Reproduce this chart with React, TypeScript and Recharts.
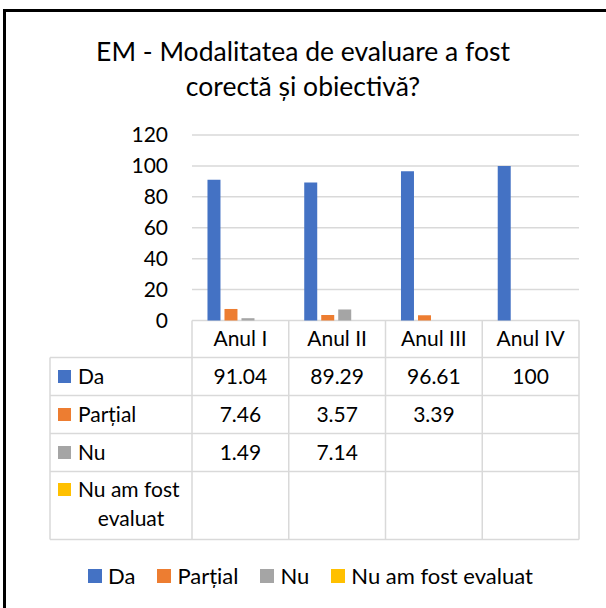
import React from "react";
import { BarChart, Bar, XAxis, YAxis, CartesianGrid, Legend } from "recharts";

const categories = ["Anul I", "Anul II", "Anul III", "Anul IV"];
const da = [91.04, 89.29, 96.61, 100];
const partial = [7.46, 3.57, 3.39, null];
const nu = [1.49, 7.14, null, null];
const nuAmFost = [null, null, null, null];
const yTicks = [0, 20, 40, 60, 80, 100, 120];

const series = [
  { key: "da", name: "Da", color: "#4472C4", values: da, label: ["Da"] },
  { key: "partial", name: "Parțial", color: "#ED7D31", values: partial, label: ["Parțial"] },
  { key: "nu", name: "Nu", color: "#A5A5A5", values: nu, label: ["Nu"] },
  { key: "nuAmFost", name: "Nu am fost evaluat", color: "#FFC000", values: nuAmFost, label: ["Nu am fost", "evaluat"] },
];

const data = categories.map((name, i) => ({
  name,
  da: da[i],
  partial: partial[i],
  nu: nu[i],
  nuAmFost: nuAmFost[i],
}));

const FONT = "Lato, 'Open Sans', sans-serif";
const GRID = "#d9d9d9";
const FS = 21;
const TABLE_LEFT = 50;
const HEADER_H = 37;
const ROW_H = [38, 38, 38, 68];

// one column of the data table, drawn at the x axis tick position
const TableTick = (props: any) => {
  const { x, y, payload, index } = props;
  const half = payload?.offset || 48.4;
  const left = x - half;
  const rowTops: number[] = [];
  let acc = y + HEADER_H;
  ROW_H.forEach((h) => {
    rowTops.push(acc);
    acc += h;
  });
  const bottom = acc;
  const plotRight = left + (categories.length - index) * 2 * half;
  const base = 0.355 * FS;

  return (
    <g>
      <line x1={left} x2={left} y1={y} y2={bottom} stroke={GRID} strokeWidth={1.5} />
      {index === categories.length - 1 && (
        <line x1={left + 2 * half} x2={left + 2 * half} y1={y} y2={bottom} stroke={GRID} strokeWidth={1.5} />
      )}
      <text x={x} y={y + HEADER_H / 2 + base} textAnchor="middle" fontSize={FS} fontFamily={FONT} fill="#000">
        {payload.value}
      </text>
      {series.map((s, r) => {
        const v = s.values[index];
        if (v === null || v === undefined) return null;
        return (
          <text key={s.key} x={x} y={rowTops[r] + ROW_H[r] / 2 + base} textAnchor="middle" fontSize={FS} fontFamily={FONT} fill="#000">
            {String(v)}
          </text>
        );
      })}
      {index === 0 && (
        <g>
          <line x1={TABLE_LEFT} x2={TABLE_LEFT} y1={rowTops[0]} y2={bottom} stroke={GRID} strokeWidth={1.5} />
          {[...rowTops, bottom].map((ry, k) => (
            <line key={k} x1={TABLE_LEFT} x2={plotRight} y1={ry} y2={ry} stroke={GRID} strokeWidth={1.5} />
          ))}
          {series.map((s, r) => {
            const mid = rowTops[r] + ROW_H[r] / 2;
            if (s.label.length === 1) {
              return (
                <g key={s.key}>
                  <rect x={58} y={mid - 6.5} width={13} height={13} fill={s.color} />
                  <text x={78} y={mid + base} fontSize={FS} fontFamily={FONT} fill="#000">
                    {s.label[0]}
                  </text>
                </g>
              );
            }
            return (
              <g key={s.key}>
                <rect x={58} y={mid - 16 - 6.5} width={13} height={13} fill={s.color} />
                <text x={78} y={mid - 16 + base} fontSize={FS} fontFamily={FONT} fill="#000">
                  {s.label[0]}
                </text>
                <text x={131} y={mid + 13 + base} textAnchor="middle" fontSize={FS} fontFamily={FONT} fill="#000">
                  {s.label[1]}
                </text>
              </g>
            );
          })}
        </g>
      )}
    </g>
  );
};

const LegendContent = () => (
  <div
    style={{
      display: "flex",
      alignItems: "center",
      paddingLeft: 88,
      fontFamily: FONT,
      fontSize: 22,
      lineHeight: "28px",
      color: "#000",
      gap: 22,
    }}
  >
    {series.map((s) => (
      <div key={s.key} style={{ display: "flex", alignItems: "center" }}>
        <span style={{ display: "inline-block", width: 14, height: 14, background: s.color, marginRight: 6 }} />
        <span>{s.name}</span>
      </div>
    ))}
  </div>
);

export default function App() {
  return (
    <div style={{ position: "absolute", left: 0, top: 0, width: 606, height: 608, background: "#fff", overflow: "hidden" }}>
      <BarChart
        width={606}
        height={608}
        data={data}
        margin={{ top: 135, right: 27, left: 0, bottom: 67.5 }}
        barCategoryGap="16%"
        barGap={4}
      >
        <CartesianGrid vertical={false} stroke={GRID} strokeWidth={1.5} />
        <YAxis
          width={192}
          domain={[0, 120]}
          ticks={yTicks}
          interval={0}
          axisLine={false}
          tickLine={false}
          tickSize={6}
          tickMargin={18}
          tick={{ fill: "#000", fontSize: FS, fontFamily: FONT }}
        />
        <XAxis
          dataKey="name"
          height={220}
          interval={0}
          axisLine={false}
          tickLine={false}
          tickSize={0}
          tickMargin={0}
          tick={(p: any) => <TableTick {...p} />}
        />
        <Legend
          layout="horizontal"
          verticalAlign="middle"
          align="center"
          content={LegendContent}
          wrapperStyle={{ top: 562, left: 0, width: 606, height: 28 }}
        />
        {series.map((s) => (
          <Bar key={s.key} dataKey={s.key} name={s.name} fill={s.color} isAnimationActive={false} />
        ))}
      </BarChart>
      <div
        style={{
          position: "absolute",
          top: 34,
          left: 0,
          width: 606,
          textAlign: "center",
          fontFamily: FONT,
          fontSize: 26.5,
          lineHeight: "35px",
          color: "#000",
        }}
      >
        EM - Modalitatea de evaluare a fost
        <br />
        corectă și obiectivă?
      </div>
      <div
        style={{
          position: "absolute",
          left: 3,
          top: 9,
          width: 620,
          height: 620,
          borderLeft: "3px solid #000",
          borderTop: "3px solid #000",
          boxSizing: "border-box",
        }}
      />
    </div>
  );
}
